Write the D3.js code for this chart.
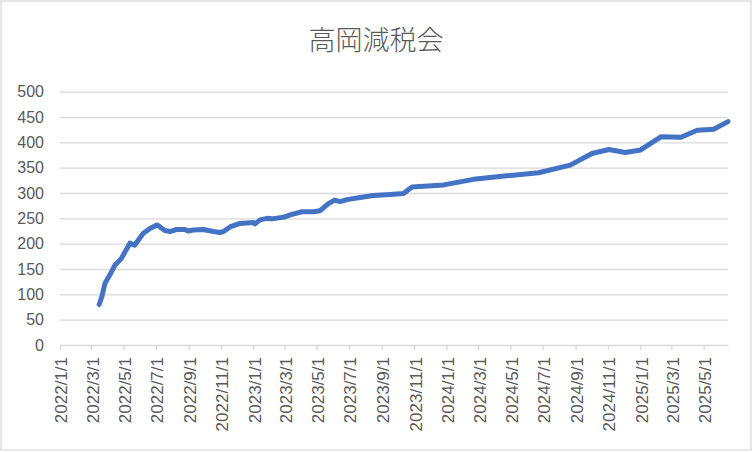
<!DOCTYPE html>
<html>
<head>
<meta charset="utf-8">
<script src="https://cdn.jsdelivr.net/npm/d3@7"></script>
<style>
  html, body { margin: 0; padding: 0; background: #fff; }
  svg { display: block; }
</style>
</head>
<body>
<svg id="chart" width="752" height="452"></svg>
<script>
const title = "高岡減税会";
const dates = [
  "2022-03-16","2022-03-21","2022-03-27","2022-04-05","2022-04-15","2022-04-20","2022-04-27",
  "2022-05-04","2022-05-13","2022-05-22","2022-06-07","2022-06-20","2022-07-03","2022-07-09",
  "2022-07-18","2022-07-28","2022-08-09","2022-08-25","2022-08-31","2022-09-10","2022-09-29",
  "2022-10-18","2022-10-30","2022-11-06","2022-11-18","2022-12-07","2023-01-01","2023-01-04",
  "2023-01-14","2023-01-27","2023-02-05","2023-02-27","2023-03-12","2023-04-03","2023-04-25",
  "2023-05-07","2023-05-13","2023-05-23","2023-06-04","2023-06-14","2023-06-27","2023-07-22",
  "2023-08-16","2023-09-17","2023-10-12","2023-10-28","2023-12-27","2024-02-21","2024-04-24",
  "2024-06-23","2024-08-22","2024-10-02","2024-11-03","2024-12-04","2025-01-02","2025-02-09",
  "2025-03-19","2025-04-19","2025-05-20","2025-06-16"
];
const values = [
  80, 95, 122, 138, 158, 163, 171,
  184, 201, 197, 220, 230, 237, 233,
  226, 224, 228, 228, 225, 227, 228,
  224, 222, 224, 233, 240, 242, 239,
  247, 250, 249, 252, 257, 263, 263,
  265, 270, 279, 286, 283, 287, 291,
  295, 297, 299, 312, 316, 327, 334,
  340, 355, 378, 386, 380, 385, 411,
  410, 424, 426, 441
];
const xTickLabels = [
  "2022/1/1","2022/3/1","2022/5/1","2022/7/1","2022/9/1","2022/11/1",
  "2023/1/1","2023/3/1","2023/5/1","2023/7/1","2023/9/1","2023/11/1",
  "2024/1/1","2024/3/1","2024/5/1","2024/7/1","2024/9/1","2024/11/1",
  "2025/1/1","2025/3/1","2025/5/1"
];
const yTicks = [0, 50, 100, 150, 200, 250, 300, 350, 400, 450, 500];

const parse = d3.timeParse("%Y-%m-%d");
const parseTick = d3.timeParse("%Y/%m/%d");
const data = dates.map((d, i) => ({ date: parse(d), value: values[i] }));
const tickDates = xTickLabels.map(s => parseTick(s));

const svg = d3.select("#chart");
const plot = { left: 60, right: 728, top: 91.7, bottom: 345 };

// chart border
svg.append("rect")
  .attr("x", 1).attr("y", 1).attr("width", 750).attr("height", 449)
  .attr("fill", "#fff").attr("stroke", "#d9d9d9").attr("stroke-width", 1.3);

const x = d3.scaleTime()
  .domain([parseTick("2022/1/1"), data[data.length - 1].date])
  .range([plot.left, plot.right]);
const y = d3.scaleLinear().domain([0, 500]).range([plot.bottom, plot.top]);

// title
svg.append("text")
  .attr("x", 376).attr("y", 50)
  .attr("text-anchor", "middle")
  .attr("font-family", "'Noto Sans CJK JP', 'Noto Sans CJK SC', sans-serif")
  .attr("font-weight", 300)
  .attr("font-size", 27)
  .attr("fill", "#595959")
  .text(title);

// gridlines
const yAxisG = svg.append("g").attr("transform", `translate(${plot.left},0)`)
  .call(d3.axisLeft(y).tickValues(yTicks).tickSize(-(plot.right - plot.left)).tickPadding(16));
yAxisG.select(".domain").remove();
yAxisG.selectAll(".tick line")
  .attr("stroke", "#d9d9d9").attr("stroke-width", 1.3)
  .filter(d => d === 0).remove();
yAxisG.selectAll(".tick text")
  .attr("fill", "#595959")
  .attr("font-family", "'Liberation Sans', Arial, sans-serif")
  .attr("font-size", 16);

// x axis
const xAxisG = svg.append("g").attr("transform", `translate(0,${plot.bottom})`)
  .call(d3.axisBottom(x).tickValues(tickDates).tickSize(5).tickSizeOuter(0)
    .tickFormat((d, i) => xTickLabels[i]));
xAxisG.select(".domain").attr("stroke", "#d9d9d9").attr("stroke-width", 1.3);
xAxisG.selectAll(".tick line").attr("stroke", "#d9d9d9").attr("stroke-width", 1.3);
xAxisG.selectAll(".tick text")
  .attr("fill", "#595959")
  .attr("font-family", "'Liberation Sans', Arial, sans-serif")
  .attr("font-size", 17)
  .attr("text-anchor", "end")
  .attr("transform", "rotate(-90)")
  .attr("x", -12)
  .attr("y", 1)
  .attr("dy", "0.35em");

// line
const line = d3.line().x(d => x(d.date)).y(d => y(d.value));
svg.append("path")
  .datum(data)
  .attr("fill", "none")
  .attr("stroke", "#4472C4")
  .attr("stroke-width", 5)
  .attr("stroke-linejoin", "round")
  .attr("stroke-linecap", "round")
  .attr("d", line);
</script>
</body>
</html>
